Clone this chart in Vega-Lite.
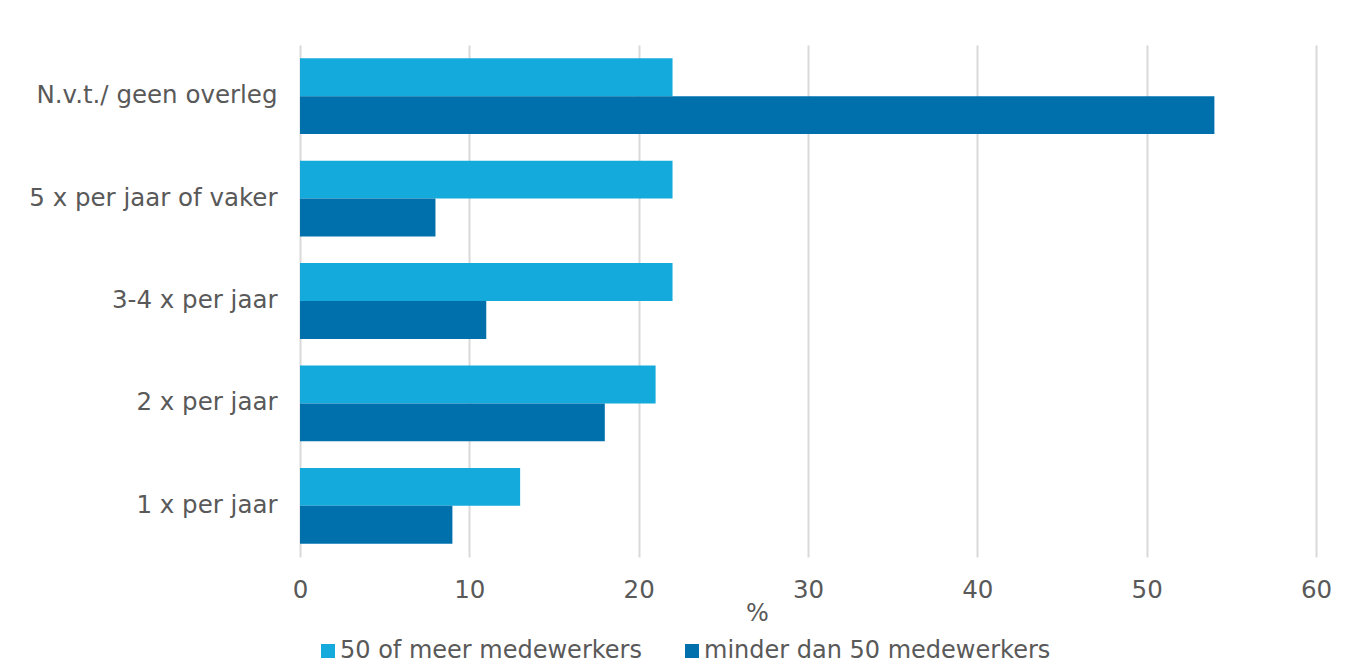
{
  "$schema": "https://vega.github.io/schema/vega-lite/v6.json",
  "width": 1016,
  "height": 512,
  "autosize": "none",
  "padding": {"left": 300, "top": 45, "right": 32, "bottom": 110},
  "background": "white",
  "data": {
    "values": [
      {"categorie": "N.v.t./ geen overleg", "groep": "50 of meer medewerkers", "pct": 22},
      {"categorie": "N.v.t./ geen overleg", "groep": "minder dan 50 medewerkers", "pct": 54},
      {"categorie": "5 x per jaar of vaker", "groep": "50 of meer medewerkers", "pct": 22},
      {"categorie": "5 x per jaar of vaker", "groep": "minder dan 50 medewerkers", "pct": 8},
      {"categorie": "3-4 x per jaar", "groep": "50 of meer medewerkers", "pct": 22},
      {"categorie": "3-4 x per jaar", "groep": "minder dan 50 medewerkers", "pct": 11},
      {"categorie": "2 x per jaar", "groep": "50 of meer medewerkers", "pct": 21},
      {"categorie": "2 x per jaar", "groep": "minder dan 50 medewerkers", "pct": 18},
      {"categorie": "1 x per jaar", "groep": "50 of meer medewerkers", "pct": 13},
      {"categorie": "1 x per jaar", "groep": "minder dan 50 medewerkers", "pct": 9}
    ]
  },
  "mark": {"type": "bar"},
  "encoding": {
    "y": {
      "field": "categorie",
      "type": "nominal",
      "sort": ["N.v.t./ geen overleg", "5 x per jaar of vaker", "3-4 x per jaar", "2 x per jaar", "1 x per jaar"],
      "scale": {"paddingInner": 0.26, "paddingOuter": 0.13},
      "axis": {
        "title": null,
        "domain": false,
        "ticks": false,
        "grid": false,
        "labelFontSize": 24.5,
        "labelColor": "#595959",
        "labelPadding": 23,
        "labelLimit": 400
      }
    },
    "yOffset": {
      "field": "groep",
      "sort": ["50 of meer medewerkers", "minder dan 50 medewerkers"]
    },
    "x": {
      "field": "pct",
      "type": "quantitative",
      "scale": {"domain": [0, 60], "nice": false},
      "axis": {
        "values": [0, 10, 20, 30, 40, 50, 60],
        "title": "%",
        "titleFontSize": 24,
        "titleFontWeight": "normal",
        "titleColor": "#595959",
        "titleX": 457,
        "titleY": 56,
        "titleAlign": "center",
        "titleBaseline": "middle",
        "domain": false,
        "ticks": false,
        "grid": true,
        "gridColor": "#d9d9d9",
        "gridWidth": 2,
        "labelFlush": false,
        "labelFontSize": 24.5,
        "labelColor": "#595959",
        "labelPadding": 21
      }
    },
    "color": {
      "field": "groep",
      "type": "nominal",
      "sort": ["50 of meer medewerkers", "minder dan 50 medewerkers"],
      "scale": {
        "domain": ["50 of meer medewerkers", "minder dan 50 medewerkers"],
        "range": ["#14aadc", "#0070ad"]
      },
      "legend": {
        "title": null,
        "orient": "none",
        "direction": "horizontal",
        "legendX": 16,
        "legendY": 594,
        "symbolType": "square",
        "symbolSize": 196,
        "symbolStrokeWidth": 0,
        "labelFontSize": 24,
        "labelColor": "#595959",
        "labelOffset": 0,
        "columnPadding": 38,
        "labelLimit": 500
      }
    }
  },
  "config": {
    "view": {"stroke": null},
    "font": "DejaVu Sans"
  }
}
